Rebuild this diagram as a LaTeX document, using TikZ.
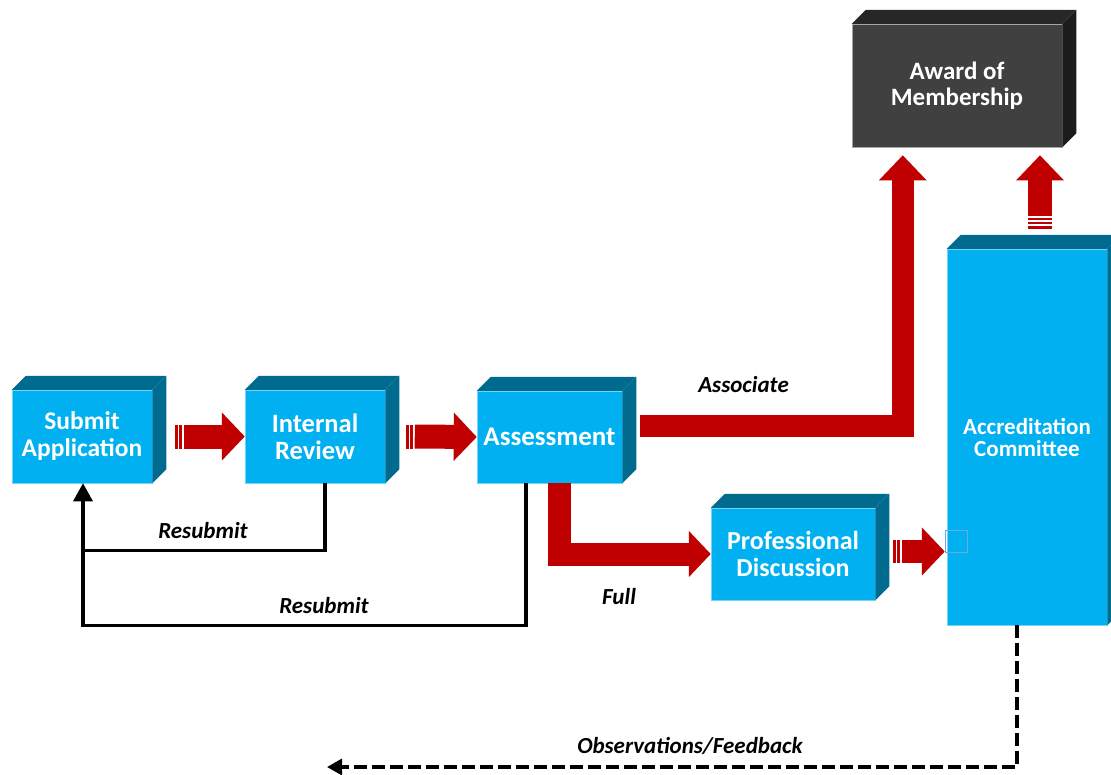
\documentclass[tikz,border=0pt]{standalone}
\usepackage{fontspec}
\setmainfont{Carlito}
\usetikzlibrary{calc,positioning,arrows.meta}
\definecolor{boxblue}{HTML}{00B0F0}
\definecolor{boxteal}{HTML}{006A8F}
\definecolor{arred}{HTML}{C00000}
\definecolor{awdfront}{HTML}{404040}
\definecolor{awdtop}{HTML}{272727}
\definecolor{awdside}{HTML}{1C1C1C}
\definecolor{pinblue}{HTML}{6FA8DC}

% top and right faces of a box node
\newcommand{\sides}[4]{%
  \fill[#3] (#1.north west) -- ++(#2,-#2) -- ([shift={(#2,-#2)}]#1.north east) -- (#1.north east) -- cycle;
  \fill[#4] (#1.north east) -- ++(#2,-#2) -- ([shift={(#2,-#2)}]#1.south east) -- (#1.south east) -- cycle;}

\begin{document}
\begin{tikzpicture}[x=1pt, y=-1pt,
    blk/.style = {fill=boxblue, draw=boxblue!55!white, line width=0.5pt, text=white, align=center, inner sep=0pt,
                  font=\fontsize{26}{27}\selectfont\bfseries},
    lbl/.style = {font=\fontsize{23}{24}\selectfont\bfseries\itshape},
    redbar/.style = {draw=arred, line width=24pt},
    stripe/.style = {redbar, dash pattern=on 2.4pt off 1.7pt on 2.7pt off 1.7pt},
    back/.style = {line width=3.3pt},
    fb/.style = {line width=3.3pt, dash pattern=on 13pt off 5pt}]
    \useasboundingbox (0,0) rectangle (1111,774);

    \node[blk, minimum width=140pt, minimum height=93pt, font=\fontsize{25.5}{27}\selectfont\bfseries] (sub) at (82,436.5) {Submit\\Application};
    \node[blk, minimum width=140pt, minimum height=93pt, font=\fontsize{26.5}{27}\selectfont\bfseries] (rev) [right of=sub, node distance=233pt] {Internal\\Review};
    \node[blk, minimum width=145pt, minimum height=92pt, font=\fontsize{27}{27}\selectfont\bfseries] (ass) at (549.5,437) {Assessment};
    \node[blk, minimum width=164pt, minimum height=92pt] (pd) at (793,554) {Professional\\Discussion};
    \node[blk, minimum width=160pt, minimum height=376pt, font=\fontsize{23}{22}\selectfont\bfseries] (acc) at (1027,437) {Accreditation\\Committee};
    \node[blk, fill=awdfront, draw=gray!70, minimum width=210pt, minimum height=123pt, font=\fontsize{25}{26}\selectfont\bfseries] (awd) at (957,85.5) {Award of\\Membership};
    \sides{sub}{14}{boxteal}{boxteal}
    \sides{rev}{14}{boxteal}{boxteal}
    \sides{ass}{14}{boxteal}{boxteal}
    \sides{pd}{14}{boxteal}{boxteal}
    \sides{acc}{14}{boxteal}{boxteal}
    \sides{awd}{14}{awdtop}{awdside}
    \node[draw=pinblue, line width=0.8pt, minimum size=22pt, inner sep=0pt] (pin) at (956,541) {};

    % red flow arrows
    \draw[stripe] ([xshift=23pt]sub.east) -- ([xshift=31.5pt]sub.east);
    \draw[redbar, -{Triangle[length=23pt,width=47pt]}] ([xshift=31.5pt]sub.east) -- (rev.west);
    \draw[stripe] ([xshift=21pt]rev.east) -- ([xshift=29.5pt]rev.east);
    \draw[redbar, -{Triangle[length=23pt,width=47pt]}] ([xshift=29.5pt]rev.east) -- (ass.west);
    \draw[redbar, line width=22pt, -{Triangle[length=25pt,width=46pt]}] ([xshift=18pt, yshift=11pt]ass.east) -| ($(awd.south west)+(51,8)$);
    \draw[redbar, line width=23pt, -{Triangle[length=22pt,width=45pt]}] ([xshift=10pt]ass.south) |- (pd.west);
    \coordinate (pdout) at ([yshift=2.5pt]pd.east);
    \draw[stripe, line width=23pt] ([xshift=18pt]pdout) -- ([xshift=26.5pt]pdout);
    \draw[redbar, line width=23pt, -{Triangle[length=23pt,width=47pt]}] ([xshift=26.5pt]pdout) -- ([xshift=-2pt]pdout -| acc.west);
    \draw[redbar, dash pattern=on 3pt off 1.5pt on 2.5pt off 1.5pt on 2.5pt off 1.5pt] ([xshift=13pt, yshift=20pt]acc.north) -- ([xshift=13pt, yshift=32.5pt]acc.north);
    \draw[redbar, -{Triangle[length=25pt,width=46pt]}] ([xshift=13pt, yshift=32.5pt]acc.north) -- ($(awd.south)+(83,8)$);

    % resubmit loops
    \draw[back] ([xshift=10pt]rev.south) |- ([xshift=1pt, yshift=-67pt]sub.south);
    \draw[back, -{Triangle[length=18pt,width=19pt]}] ([xshift=-23.5pt]ass.south) -- ++(0,142) -| ([xshift=1pt]sub.south);
    \coordinate (fbend) at (327,767);
    \draw[fb, -{Triangle[length=15pt,width=16pt]}] ([xshift=-10pt]acc.south) |- (fbend);

    \node[lbl] (l1) at (743.5,385) {Associate};
    \node[lbl] (l2) at (619,597) {Full};
    \node[lbl] (l3) at (203,531) {Resubmit};
    \node[lbl] (l4) at (324,606) {Resubmit};
    \node[lbl] (l5) at (690,746) {Observations/Feedback};
\end{tikzpicture}
\end{document}
